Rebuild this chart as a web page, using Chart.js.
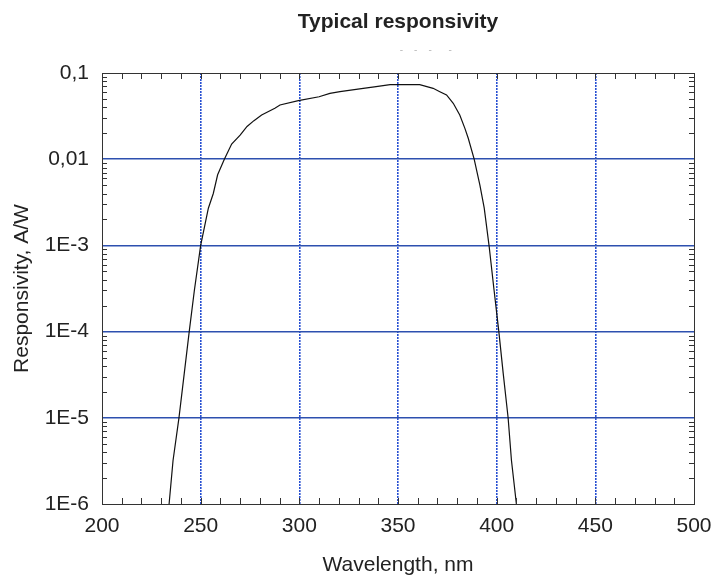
<!DOCTYPE html>
<html>
<head>
<meta charset="utf-8">
<script src="https://cdn.jsdelivr.net/npm/chart.js@4.4.1/dist/chart.umd.min.js"></script>
<style>
  body { margin: 0; background: #fff; }
  canvas { display: block; }
</style>
</head>
<body>
<canvas id="myChart" width="715" height="579"></canvas>
<script>
// wavelength in nm, responsivity in A/W
const wavelength = [234, 236, 239, 241.7, 244.2, 246.8, 250, 253.9, 256.4, 258.6, 262, 265.7, 270, 273.5, 277,
  280.9, 287.6, 290.2, 299.5, 310, 315.5, 320.6, 332.4, 338, 346, 361, 367.8, 371.2, 374.6, 378, 381.3,
  383.9, 385.6, 388.6, 391.5, 393.7, 396.2, 398.7, 401.1, 403.3, 405.8, 407.5, 410];
const responsivity = [1e-6, 3.2e-6, 1e-5, 3.3e-5, 1e-4, 3e-4, 1e-3, 2.7e-3, 4.0e-3, 6.6e-3, 0.01, 0.015, 0.019, 0.024, 0.028,
  0.0326, 0.039, 0.0425, 0.0477, 0.053, 0.058, 0.0607, 0.0664, 0.069, 0.0732, 0.0732, 0.0664, 0.0607, 0.0556, 0.0445, 0.0326,
  0.0228, 0.0175, 0.01, 0.005, 0.0027, 9.7e-4, 3.0e-4, 1e-4, 3.3e-5, 1e-5, 3.2e-6, 1e-6];

const xTicks = [200, 250, 300, 350, 400, 450, 500];
const yTickValues = [1e-6, 1e-5, 1e-4, 1e-3, 0.01, 0.1];
const yTickLabels = ['1E-6', '1E-5', '1E-4', '1E-3', '0,01', '0,1'];

const gridBlue = 'rgb(45,80,175)';
const dotBlue = 'rgb(40,80,210)';
const font = "'Liberation Sans', Arial, sans-serif";

// inward minor ticks + frame, like the original plot
const frameTicks = {
  id: 'frameTicks',
  afterDraw(chart) {
    const {ctx, chartArea: a, scales: {x, y}} = chart;
    ctx.save();
    ctx.strokeStyle = '#333';
    ctx.lineWidth = 1;
    ctx.beginPath();
    for (let v = x.min; v <= x.max; v += 10) {
      const px = Math.round(x.getPixelForValue(v)) + 0.5;
      ctx.moveTo(px, a.bottom); ctx.lineTo(px, a.bottom - 6);
      ctx.moveTo(px, a.top); ctx.lineTo(px, a.top + 6);
    }
    yTickValues.forEach(d => {
      for (let m = 2; m <= 9; m++) {
        const v = d * m;
        if (v > y.max) break;
        const py = Math.round(y.getPixelForValue(v)) + 0.5;
        ctx.moveTo(a.left, py); ctx.lineTo(a.left + 5, py);
        ctx.moveTo(a.right, py); ctx.lineTo(a.right - 5, py);
      }
    });
    ctx.stroke();
    ctx.strokeRect(Math.round(a.left) + 0.5, Math.round(a.top) + 0.5, Math.round(a.width), Math.round(a.height));
    ctx.restore();
  }
};

const ctx = document.getElementById('myChart');

new Chart(ctx, {
  type: 'line',
  data: {
    datasets: [{
      data: wavelength.map((w, i) => ({x: w, y: responsivity[i]})),
      borderColor: '#111',
      borderWidth: 1.2,
      pointRadius: 0,
      tension: 0,
      fill: false
    }]
  },
  options: {
    responsive: false,
    animation: false,
    devicePixelRatio: 1,
    layout: {padding: {left: 0, right: 21, top: 0, bottom: 0}},
    plugins: {
      legend: {display: false},
      tooltip: {enabled: false},
      title: {
        display: true,
        text: 'Typical responsivity',
        color: '#222',
        fullSize: false,
        font: {family: font, size: 21, weight: 'bold'},
        padding: {top: 9.4, bottom: 9.4}
      },
      subtitle: {
        display: true,
        text: '\u00a0'.repeat(20) + '-\u00a0\u00a0\u00a0\u00a0-\u00a0\u00a0\u00a0\u00a0-\u00a0\u00a0\u00a0\u00a0\u00a0\u00a0-',
        color: '#bbb',
        fullSize: false,
        font: {family: font, size: 10},
        padding: {top: 0, bottom: 17}
      }
    },
    scales: {
      x: {
        type: 'linear',
        min: 200,
        max: 500,
        afterBuildTicks: s => { s.ticks = xTicks.map(v => ({value: v})); },
        afterFit: s => { s.height = 75; s.paddingLeft = 0; s.paddingRight = 0; },
        ticks: {
          color: '#222',
          font: {family: font, size: 21},
          padding: 10,
          maxRotation: 0,
          autoSkip: false
        },
        grid: {
          color: c => (c.tick && (c.tick.value === 200 || c.tick.value === 500)) ? 'rgba(0,0,0,0)' : dotBlue,
          lineWidth: 1.6,
          drawTicks: false
        },
        border: {display: false, dash: [2, 1]},
        title: {
          display: true,
          text: 'Wavelength, nm',
          color: '#222',
          font: {family: font, size: 21},
          padding: {top: 0, bottom: 1}
        }
      },
      y: {
        type: 'logarithmic',
        min: 1e-6,
        max: 0.1,
        afterBuildTicks: s => { s.ticks = yTickValues.map(v => ({value: v})); },
        afterFit: s => { s.width = 102; s.paddingTop = 0; s.paddingBottom = 0; },
        ticks: {
          color: '#222',
          font: {family: font, size: 21},
          padding: 13,
          autoSkip: false,
          callback: (v) => {
            const i = yTickValues.findIndex(t => Math.abs(Math.log10(t) - Math.log10(v)) < 1e-6);
            return i >= 0 ? yTickLabels[i] : '';
          }
        },
        grid: {
          color: c => (c.tick && (c.tick.value === 0.1 || c.tick.value === 1e-6)) ? 'rgba(0,0,0,0)' : gridBlue,
          lineWidth: 1.5,
          drawTicks: false
        },
        border: {display: false},
        title: {
          display: true,
          text: 'Responsivity, A/W',
          color: '#222',
          font: {family: font, size: 21},
          padding: {top: 10, bottom: 0}
        }
      }
    }
  },
  plugins: [frameTicks]
});
</script>
</body>
</html>
